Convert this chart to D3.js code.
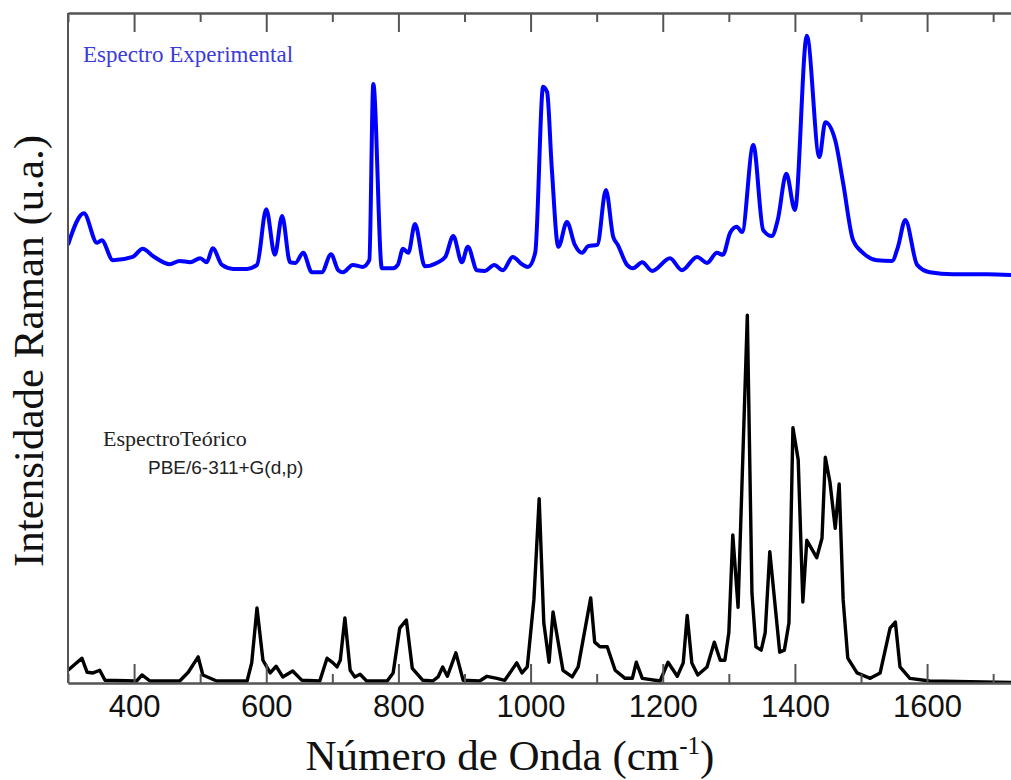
<!DOCTYPE html>
<html>
<head>
<meta charset="utf-8">
<script src="https://cdn.jsdelivr.net/npm/d3@7"></script>
<style>
  body { margin: 0; background: #fff; }
  svg { display: block; }
</style>
</head>
<body>
<div id="chart"></div>
<script>
// Experimental spectrum (blue), wavenumber in cm-1 / intensity in a.u.
const expWn = [300, 324, 344, 351, 368, 398, 413, 429, 454, 469, 485, 500, 510, 519, 533, 550, 571, 586,
  600, 613, 624, 636, 644, 656, 669, 684, 698, 709, 716, 731, 746, 756, 762, 775, 792, 799, 807, 815,
  825, 840, 858, 871, 883, 896, 905, 919, 931, 945, 958, 973, 987, 996, 1007, 1019, 1025, 1032, 1042,
  1055, 1067, 1078, 1087, 1101, 1114, 1125, 1132, 1146, 1155, 1169, 1184, 1211, 1229, 1252, 1267, 1282,
  1291, 1302, 1312, 1320, 1337, 1352, 1365, 1374, 1387, 1400, 1418, 1437, 1446, 1461, 1473, 1488, 1503,
  1524, 1547, 1556, 1567, 1585, 1604, 1639, 1690, 1727];
const expInt = [65.4, 70.1, 65.7, 66.1, 63.1, 63.6, 64.8, 63.7, 62.5, 63.0, 62.8, 63.4, 62.8, 64.9, 62.4, 61.8, 61.8, 62.4,
  70.7, 63.9, 69.7, 62.8, 62.7, 64.2, 61.3, 61.3, 64.0, 61.6, 61.3, 62.4, 62.1, 63.1, 89.4, 61.9, 61.9, 62.4, 64.8, 64.2,
  68.5, 62.2, 62.7, 63.6, 66.7, 62.8, 65.1, 61.6, 61.5, 62.4, 61.6, 63.6, 62.5, 62.1, 64.2, 89.0, 88.2, 77.0, 65.1,
  68.8, 65.4, 64.2, 65.2, 65.4, 73.6, 66.6, 65.4, 62.4, 61.9, 62.8, 61.5, 63.4, 61.6, 63.6, 62.7, 64.2,
  63.9, 67.2, 68.1, 67.3, 80.3, 67.6, 66.7, 69.1, 76.0, 70.6, 96.6, 78.5, 83.7, 81.0, 74.6, 66.1, 64.2,
  63.1, 63.0, 65.1, 69.1, 62.4, 61.3, 61.0, 61.0, 60.9];

// Theoretical spectrum PBE/6-311+G(d,p) (black)
const teoWn = [300, 321, 329, 338, 348, 356, 404, 412, 424, 469, 482, 497, 504, 525, 571, 578, 586, 595, 606,
  615, 625, 640, 654, 681, 692, 701, 707, 712, 719, 727, 734, 742, 752, 783, 792, 802, 812, 821, 837, 852,
  860, 867, 874, 887, 898, 923, 934, 949, 961, 979, 987, 995, 1005, 1013, 1020, 1028, 1034, 1049, 1063,
  1072, 1091, 1097, 1105, 1116, 1128, 1143, 1154, 1160, 1169, 1196, 1208, 1222, 1231, 1237, 1244, 1253,
  1267, 1278, 1287, 1294, 1300, 1306, 1314, 1328, 1335, 1341, 1349, 1355, 1362, 1377, 1384, 1391, 1397,
  1405, 1412, 1418, 1433, 1441, 1446, 1453, 1461, 1467, 1473, 1480, 1494, 1514, 1529, 1544, 1552, 1559,
  1574, 1604, 1727];
const teoInt = [1.9, 3.7, 1.6, 1.5, 1.9, 0.4, 0.3, 1.2, 0.3, 0.3, 1.6, 3.9, 1.2, 0.3, 0.3, 3.0, 11.2, 3.4, 1.5,
  2.5, 0.9, 1.8, 0.4, 0.3, 3.7, 3.0, 2.4, 3.4, 9.7, 1.9, 0.9, 1.3, 0.3, 0.3, 1.5, 8.2, 9.4, 2.2, 0.4, 0.3,
  0.9, 2.4, 1.0, 4.5, 0.4, 0.3, 1.0, 0.7, 0.4, 3.0, 1.5, 2.4, 12.4, 27.5, 9.0, 3.1, 10.6, 1.9, 0.9,
  2.4, 12.7, 6.1, 5.4, 5.4, 1.9, 0.7, 0.7, 3.1, 0.7, 0.3, 3.1, 1.0, 3.0, 10.1, 3.0, 1.2,
  2.4, 6.1, 3.4, 3.4, 7.5, 22.1, 11.3, 54.9, 13.4, 5.4, 4.9, 7.5, 19.6, 4.6, 4.9, 9.0, 38.1,
  33.3, 12.1, 21.3, 18.7, 21.6, 33.7, 30.0, 23.1, 29.7, 12.4, 3.7, 1.5, 0.7, 1.5, 8.2, 9.1, 2.4,
  0.7, 0.3, 0.1];

const majorTicks = [400, 600, 800, 1000, 1200, 1400, 1600];
const minorTicks = [300, 500, 700, 900, 1100, 1300, 1500, 1700];

const width = 1011, height = 780;
const margin = {left: 68, top: 13, right: 0, bottom: 97};
const plotW = width - margin.left - margin.right;
const plotH = height - margin.top - margin.bottom;

const svg = d3.select("#chart").append("svg")
  .attr("width", width)
  .attr("height", height);

const x = d3.scaleLinear().domain([300, 1727]).range([0, plotW]);
const y = d3.scaleLinear().domain([0, 100]).range([plotH, 0]);

const g = svg.append("g").attr("transform", `translate(${margin.left},${margin.top})`);

g.append("clipPath").attr("id", "clip")
  .append("rect").attr("width", plotW).attr("height", plotH);

const expData = expWn.map((w, i) => [w, expInt[i]]);
const teoData = teoWn.map((w, i) => [w, teoInt[i]]);

g.append("path")
  .datum(teoData)
  .attr("clip-path", "url(#clip)")
  .attr("fill", "none")
  .attr("stroke", "#000")
  .attr("stroke-width", 3.4)
  .attr("stroke-linejoin", "round")
  .attr("d", d3.line().x(d => x(d[0])).y(d => y(d[1])));

g.append("path")
  .datum(expData)
  .attr("clip-path", "url(#clip)")
  .attr("fill", "none")
  .attr("stroke", "#0000ff")
  .attr("stroke-width", 4)
  .attr("stroke-linejoin", "round")
  .attr("d", d3.line().curve(d3.curveMonotoneX).x(d => x(d[0])).y(d => y(d[1])));

// axes: bottom with labels, top without, ticks pointing inward
const axisColor = "#555";

function styleAxis(sel) {
  sel.selectAll("path, line").attr("stroke", axisColor).attr("stroke-width", 2);
}

g.append("g")
  .attr("transform", `translate(0,${plotH})`)
  .call(d3.axisBottom(x).tickValues(minorTicks).tickSize(-9).tickSizeOuter(0).tickFormat(""))
  .call(styleAxis);

g.append("g")
  .attr("transform", `translate(0,${plotH})`)
  .call(d3.axisBottom(x).tickValues(majorTicks).tickSize(-19).tickSizeOuter(0).tickPadding(12).tickFormat(d3.format("d")))
  .call(styleAxis)
  .call(a => a.selectAll("text")
    .attr("fill", "#111")
    .style("font-family", "'Liberation Sans', Arial, sans-serif")
    .style("font-size", "31px"));

g.append("g")
  .call(d3.axisTop(x).tickValues(minorTicks).tickSize(-9).tickSizeOuter(0).tickFormat(""))
  .call(styleAxis);

g.append("g")
  .call(d3.axisTop(x).tickValues(majorTicks).tickSize(-19).tickSizeOuter(0).tickFormat(""))
  .call(styleAxis);

g.append("line")
  .attr("x1", 0).attr("x2", 0)
  .attr("y1", 0).attr("y2", plotH)
  .attr("stroke", axisColor)
  .attr("stroke-width", 2);

// titles
svg.append("text")
  .attr("x", 510)
  .attr("y", 770)
  .attr("text-anchor", "middle")
  .style("font-family", "'Liberation Serif', 'Times New Roman', serif")
  .style("font-size", "43px")
  .attr("fill", "#111")
  .call(t => {
    t.append("tspan").text("Número de Onda (cm");
    t.append("tspan").attr("dy", -16).style("font-size", "25px").text("-1");
    t.append("tspan").attr("dy", 16).text(")");
  });

svg.append("text")
  .attr("transform", "translate(43,351) rotate(-90)")
  .attr("text-anchor", "middle")
  .style("font-family", "'Liberation Serif', 'Times New Roman', serif")
  .style("font-size", "43px")
  .attr("fill", "#111")
  .text("Intensidade Raman (u.a.)");

// labels inside the plot
svg.append("text")
  .attr("x", 83).attr("y", 62)
  .style("font-family", "'Liberation Serif', 'Times New Roman', serif")
  .style("font-size", "23px")
  .attr("fill", "#3b3bd9")
  .text("Espectro Experimental");

svg.append("text")
  .attr("x", 103).attr("y", 446)
  .style("font-family", "'Liberation Serif', 'Times New Roman', serif")
  .style("font-size", "22px")
  .attr("fill", "#222")
  .text("EspectroTeórico");

svg.append("text")
  .attr("x", 148).attr("y", 474)
  .style("font-family", "'Liberation Sans', Arial, sans-serif")
  .style("font-size", "19px")
  .attr("fill", "#222")
  .text("PBE/6-311+G(d,p)");
</script>
</body>
</html>
